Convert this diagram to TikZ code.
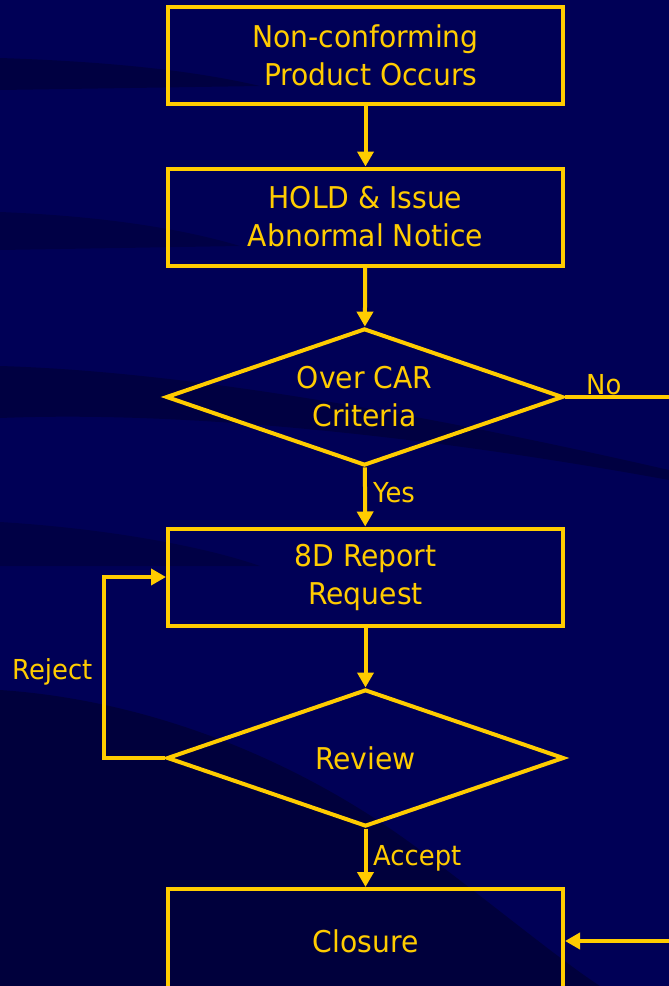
\documentclass[tikz,border=0pt]{standalone}
\usepackage{fontspec}
\setmainfont[FakeStretch=0.94]{DejaVu Sans}
\usetikzlibrary{shapes.geometric,arrows.meta}

\definecolor{navy}{RGB}{0,0,86}
\definecolor{deepnavy}{RGB}{0,0,40}
\definecolor{gold}{RGB}{255,204,0}

\tikzset{
  box/.style={draw=gold, line width=4pt, minimum width=395pt, minimum height=97pt,
    text=gold, align=center, inner sep=0pt, font=\fontsize{30}{38}\selectfont},
  decision/.style={diamond, shape aspect=2.9, draw=gold, line width=4pt,
    minimum width=397pt, minimum height=137pt, text=gold, align=center, inner sep=0pt,
    font=\fontsize{30}{38}\selectfont},
  link/.style={draw=gold, line width=4pt, -{Triangle[length=15pt,width=16pt]}},
  lbl/.style={text=gold, inner sep=0pt, anchor=base west, font=\fontsize{27.5}{30}\selectfont}
}

\begin{document}
\begin{tikzpicture}[x=1pt,y=-1pt]
\clip (0,0) rectangle (669,986);
\fill[navy] (0,0) rectangle (669,986);
% background swooshes
\fill[deepnavy, opacity=0.45] (0,58) .. controls (120,62) and (200,72) .. (260,86) -- (0,90) -- cycle;
\fill[deepnavy, opacity=0.35] (0,212) .. controls (100,216) and (180,228) .. (240,246) -- (0,250) -- cycle;
\fill[deepnavy, opacity=0.45] (0,366) .. controls (200,372) and (450,420) .. (669,470) -- (669,480)
  .. controls (450,440) and (200,410) .. (0,418) -- cycle;
\fill[deepnavy, opacity=0.35] (0,522) .. controls (100,528) and (200,545) .. (260,566) -- (0,566) -- cycle;
\fill[deepnavy, opacity=0.55] (0,690) .. controls (150,700) and (300,760) .. (420,850)
  .. controls (500,910) and (560,960) .. (600,986) -- (0,986) -- cycle;

\node[box] (nc) at (365.5,55.5) {Non-conforming\\\hspace*{0.35em}Product Occurs};
\node[box] (hold) at (365.5,217) {HOLD \& Issue\\Abnormal Notice};
\node[decision] (car) at (364.5,397) {Over CAR\\Criteria};
\node[box] (req) at (365.5,577) {8D Report\\Request};
\node[decision] (rev) at (365.5,758) {Review};
\node[box, minimum height=104pt] (clo) at (365.5,941) {Closure};

\node[lbl] (no) at (586,394) {No};
\node[lbl] (yes) at (373,502) {Yes};
\node[lbl] (reject) at (12,679) {Reject};
\node[lbl] (accept) at (373,865) {Accept};

\draw[link] (nc) -- (hold);
\draw[link] (hold) -- (car);
\draw[link] (car) -- (req);
\draw[link] (req) -- (rev);
\draw[link] (rev) -- (clo);
\draw[link] (rev.west) -- ++(-61,0) |- (req.west);
\draw[link] (car.east) -- ++(150,0) |- (clo.east);
\end{tikzpicture}
\end{document}
